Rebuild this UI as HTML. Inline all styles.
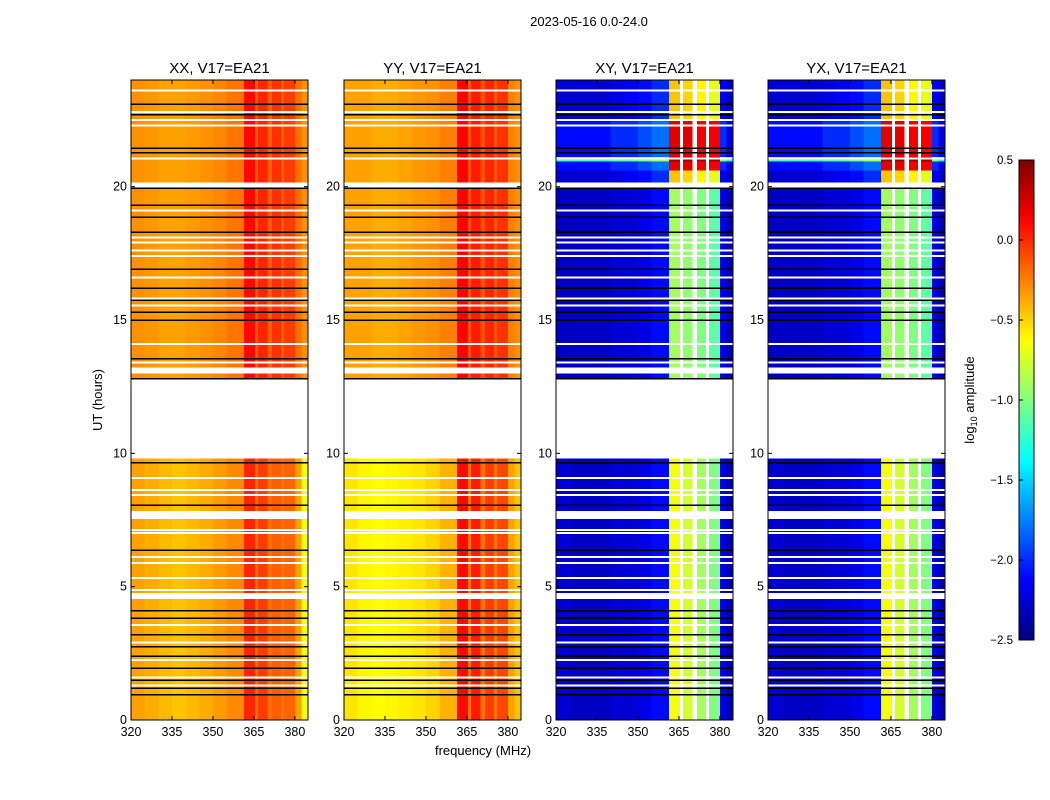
<!DOCTYPE html>
<html><head><meta charset="utf-8"><style>
body{margin:0;background:#fff;}
svg{display:block;font-family:"Liberation Sans",sans-serif;}
</style></head><body>
<svg id="fig" width="1050" height="800" xmlns="http://www.w3.org/2000/svg">
<text x="589" y="26" font-size="13" text-anchor="middle">2023-05-16 0.0-24.0</text>
<text x="483" y="755" font-size="13" text-anchor="middle">frequency (MHz)</text>
<text x="102" y="400" font-size="13" text-anchor="middle" transform="rotate(-90 102 400)">UT (hours)</text>
<text x="974" y="400" font-size="13" text-anchor="middle" transform="rotate(-90 974 400)">log<tspan font-size="9" dy="3">10</tspan><tspan dy="-3"> amplitude</tspan></text>
<g id="panels"></g>
<g id="cbar"></g>
</svg>
<script>
const freqEdges=[320,325,330,335,340,345,350,355,361.3,365.4,366.5,370,371.6,375,376,380,382.5,384.8];
const XX_low=[-0.35,-0.38,-0.42,-0.45,-0.42,-0.38,-0.33,-0.28,0.02,-0.2,-0.05,-0.2,-0.15,-0.22,-0.17,-0.35,-0.65];
const XX_high=[-0.3,-0.32,-0.35,-0.35,-0.33,-0.3,-0.27,-0.22,0.1,-0.15,0.02,-0.15,-0.02,-0.15,-0.05,-0.2,-0.3];
const YY_low=[-0.55,-0.6,-0.62,-0.6,-0.58,-0.55,-0.5,-0.4,0.1,-0.22,0.05,-0.22,-0.05,-0.22,-0.08,-0.35,-0.45];
const YY_high=[-0.35,-0.35,-0.38,-0.38,-0.35,-0.32,-0.3,-0.25,0.12,-0.12,0.05,-0.12,0.02,-0.12,-0.02,-0.25,-0.3];
const XY_low=[-2.25,-2.3,-2.3,-2.3,-2.25,-2.25,-2.2,-2.1,-0.65,null,-0.75,null,-0.9,null,-1.0,-2.2,-2.35];
const XY_mid=[-2.3,-2.3,-2.3,-2.3,-2.25,-2.25,-2.2,-2.1,-0.9,null,-0.95,null,-1.0,null,-1.1,-2.2,-2.35];
const XY_top=[-2.25,-2.25,-2.25,-2.25,-2.2,-2.15,-2.1,-2.0,-0.45,null,-0.5,null,-0.6,null,-0.7,-2.15,-2.3];
const XY_hot=[-2.1,-2.1,-2.1,-2.1,-2.0,-2.0,-1.9,-1.8,0.2,null,0.2,null,0.15,null,0.15,-2.0,-2.2];
const XY_line=[-1.2,-1.2,-1.2,-1.2,-1.1,-1.1,-1.0,-0.9,0.4,null,0.4,null,0.4,null,0.4,-1.0,-1.3];
const titles=["XX, V17=EA21","YY, V17=EA21","XY, V17=EA21","YX, V17=EA21"];
const segXX=[[0,9.8,XX_low],[12.8,24,XX_high]];
const segYY=[[0,9.8,YY_low],[12.8,24,YY_high]];
const segXY=[[0,9.8,XY_low],[12.8,20,XY_mid],[20,20.6,XY_top],[20.6,21.5,XY_hot],[20.95,21.12,XY_line],[21.5,22.5,XY_hot],[22.5,24,XY_top]];
const segYX=[[0,9.8,XY_low],[12.8,20,XY_mid],[20,20.6,XY_top],[20.6,21.5,XY_hot],[20.95,21.12,XY_line],[21.5,22.5,XY_hot],[22.5,24,XY_top]];
const whiteLines=[9.07,8.62,8.44,7.8,7.12,7.01,6.11,5.89,5.32,4.87,3.56,2.9,2.25,1.6,1.3,13.4,14.1,15.55,15.8,16.6,17.4,17.6,17.9,18.1,19.1,21.05,22.3,22.5,22.8,23.6];
const whiteThick=[4.65,7.65,13.1,20.05];
const blackLines=[9.64,8.06,6.37,4.09,3.82,3.2,2.75,2.4,1.95,1.5,1.2,0.95,12.8,13.55,15.0,15.3,15.75,16.2,16.9,18.3,18.85,19.3,19.95,21.27,21.45,22.7,23.1];
const xTicks=[320,335,350,365,380];
const yTicks=[0,5,10,15,20];
const cbTicks=[0.5,0.0,-0.5,-1.0,-1.5,-2.0,-2.5];
const vmin=-2.5,vmax=0.5;
const panelX=[131,344,556,768],PW=177,PT=80,PH=640,F0=320,F1=384.8,T0=0,T1=24;
const NS="http://www.w3.org/2000/svg";
function jet(v){let x=(v-vmin)/(vmax-vmin);x=Math.max(0,Math.min(1,x));
 const c=t=>Math.round(255*Math.max(0,Math.min(1,1.5-Math.abs(t))));
 return `rgb(${c(4*x-3)},${c(4*x-2)},${c(4*x-1)})`;}
function el(tag,attrs,parent){const e=document.createElementNS(NS,tag);for(const k in attrs)e.setAttribute(k,attrs[k]);parent.appendChild(e);return e;}
const panels=document.getElementById('panels');
const segs=[segXX,segYY,segXY,segYX];
const names=['xx','yy','xy','yx'];
for(let p=0;p<4;p++){
 const x0=panelX[p];
 const sx=f=>x0+(f-F0)/(F1-F0)*PW;
 const sy=t=>PT+PH-(t-T0)/(T1-T0)*PH;
 const g=el('g',{},panels);
 
 
 const hm=el('g',{'shape-rendering':'crispEdges'},g);
 
 
 for(const s of segs[p]){
  for(let i=0;i<freqEdges.length-1;i++){
   const v=s[2][i];
   const r=el('rect',{x:sx(freqEdges[i]),y:sy(s[1]),width:sx(freqEdges[i+1])-sx(freqEdges[i])+0.3,height:sy(s[0])-sy(s[1]),fill:v===null?'#fff':jet(v)},hm);
   
   
  }
 }
 for(const t of whiteLines){const r=el('rect',{x:x0,y:sy(t)-1,width:PW,height:2,fill:'#fff'},hm);}
 for(const t of whiteThick){const r=el('rect',{x:x0,y:sy(t)-3,width:PW,height:6,fill:'#fff'},hm);}
 for(const t of blackLines){const r=el('rect',{x:x0,y:sy(t)-0.75,width:PW,height:1.5,fill:'#000'},hm);}
 const fr=el('rect',{x:x0,y:PT,width:PW,height:PH,fill:'none',stroke:'#000','stroke-width':1},g);
 
 const tt=el('text',{x:x0+PW/2,y:PT-7,'font-size':15,'text-anchor':'middle'},g);tt.textContent=titles[p];
 
 for(const f of xTicks){const X=sx(f);
  el('line',{x1:X,x2:X,y1:PT+PH,y2:PT+PH-4,stroke:'#000'},g);el('line',{x1:X,x2:X,y1:PT,y2:PT+4,stroke:'#000'},g);
  const l=el('text',{x:X,y:PT+PH+16,'font-size':12.5,'text-anchor':'middle'},g);l.textContent=f;
  }
 for(const t of yTicks){const Y=sy(t);
  el('line',{x1:x0,x2:x0+4,y1:Y,y2:Y,stroke:'#000'},g);el('line',{x1:x0+PW,x2:x0+PW-4,y1:Y,y2:Y,stroke:'#000'},g);
  const l=el('text',{x:x0-4,y:Y+4,'font-size':12.5,'text-anchor':'end'},g);l.textContent=t;
  }
}
const cb=document.getElementById('cbar');
const CX=1019,CW=15,CT=160,CH=480;
for(let i=0;i<120;i++){const v0=vmin+(vmax-vmin)*i/120;
 el('rect',{x:CX,y:CT+CH-(i+1)*CH/120,width:CW,height:CH/120+0.5,fill:jet(v0+(vmax-vmin)/240),'shape-rendering':'crispEdges'},cb);}
el('rect',{x:CX,y:CT,width:CW,height:CH,fill:'none',stroke:'#000'},cb);
for(const v of cbTicks){const Y=CT+CH-(v-vmin)/(vmax-vmin)*CH;
 el('line',{x1:CX,x2:CX+4,y1:Y,y2:Y,stroke:'#000'},cb);
 const l=el('text',{x:CX-6,y:Y+4,'font-size':11.5,'text-anchor':'end'},cb);l.textContent=v.toFixed(1).replace('-','\u2212');
 }
</script>
</body></html>
